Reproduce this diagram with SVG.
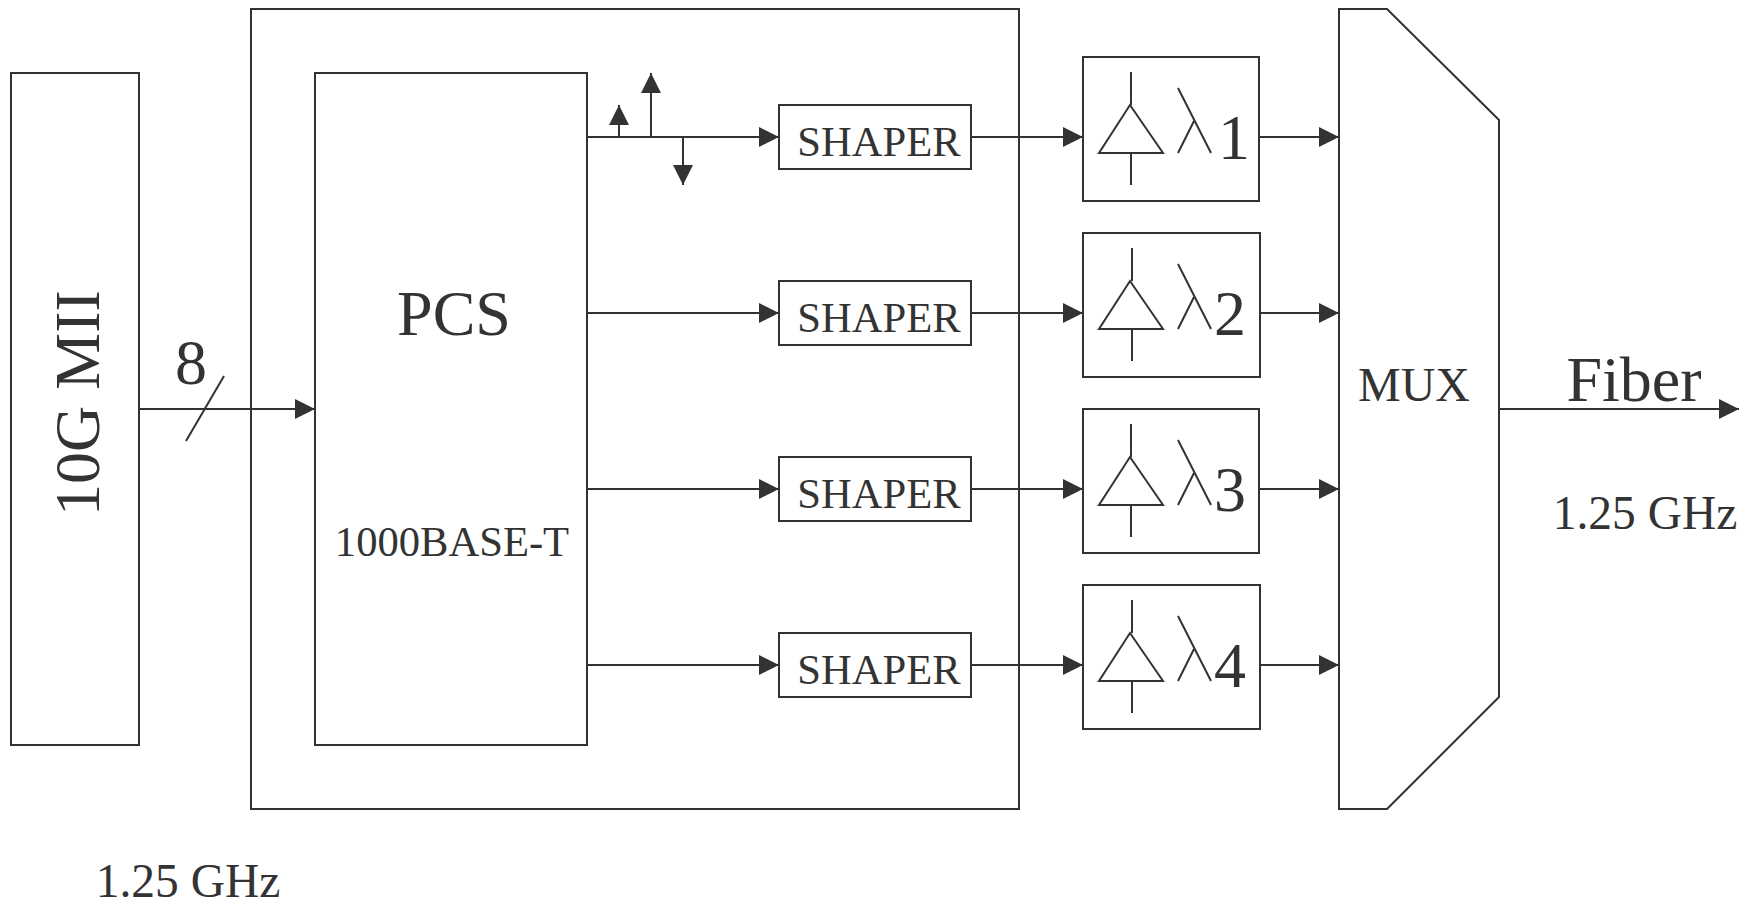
<svg xmlns="http://www.w3.org/2000/svg" width="1750" height="904" viewBox="0 0 1750 904">
<defs>
<marker id="a" markerUnits="userSpaceOnUse" markerWidth="20" markerHeight="20" refX="20" refY="10" orient="auto"><path d="M0 0L20 10L0 20z" fill="#333"/></marker>
<g id="amp"><path d="M1130 105L1163 153H1099z" class="t"/><path d="M1178 88L1211 153M1194 121L1178 153" class="t"/></g>
</defs>
<style>
rect,.b{fill:#fff;stroke:#333;stroke-width:2}
.t{fill:none;stroke:#333;stroke-width:2}
.c{fill:none;stroke:#333;stroke-width:2;marker-end:url(#a)}
text{font-family:"Liberation Serif","Times New Roman",serif;fill:#333}
.s{font-size:42.6px;text-anchor:middle}
.d{font-size:64px}
</style>
<rect width="1750" height="904" style="fill:#fff;stroke:none"/>
<g id="n-mii"><rect x="11" y="73" width="128" height="672"/><text transform="translate(99 403) rotate(-90)" font-size="64" text-anchor="middle">10G MII</text></g>
<g id="n-outer"><rect x="251" y="9" width="768" height="800"/></g>
<g id="n-pcs"><rect x="315" y="73" width="272" height="672"/><text x="454" y="335" font-size="64" text-anchor="middle">PCS</text><text x="452" y="556" font-size="42.6" text-anchor="middle">1000BASE-T</text></g>
<g id="n-s1"><rect x="779" y="105" width="192" height="64"/><text x="879" y="156" class="s">SHAPER</text></g>
<g id="n-s2"><rect x="779" y="281" width="192" height="64"/><text x="879" y="332" class="s">SHAPER</text></g>
<g id="n-s3"><rect x="779" y="457" width="192" height="64"/><text x="879" y="508" class="s">SHAPER</text></g>
<g id="n-s4"><rect x="779" y="633" width="192" height="64"/><text x="879" y="684" class="s">SHAPER</text></g>
<g id="n-l1"><rect x="1083" y="57" width="176" height="144"/><use href="#amp"/><path class="t" d="M1131 72V105M1131 153V185"/><text x="1218" y="159" class="d">1</text></g>
<g id="n-l2"><rect x="1083" y="233" width="177" height="144"/><use href="#amp" y="176"/><path class="t" d="M1132 248V281M1132 329V361"/><text x="1214" y="335" class="d">2</text></g>
<g id="n-l3"><rect x="1083" y="409" width="176" height="144"/><use href="#amp" y="352"/><path class="t" d="M1131 424V457M1131 505V537"/><text x="1214" y="511" class="d">3</text></g>
<g id="n-l4"><rect x="1083" y="585" width="177" height="144"/><use href="#amp" y="528"/><path class="t" d="M1132 600V633M1132 681V713"/><text x="1214" y="687" class="d">4</text></g>
<g id="n-mux"><path class="b" d="M1339 9H1387L1499 120V697L1387 809H1339z"/><text x="1414" y="401" font-size="48" text-anchor="middle">MUX</text></g>
<g id="connectors">
<path class="c" d="M139 409H315"/><path class="t" d="M186 441L224 376"/>
<path class="c" d="M587 137H779"/><path class="c" d="M619 137V105"/><path class="c" d="M651 137V73"/><path class="c" d="M683 137V185"/>
<path class="c" d="M587 313H779"/><path class="c" d="M587 489H779"/><path class="c" d="M587 665H779"/>
<path class="c" d="M971 137H1083"/><path class="c" d="M971 313H1083"/><path class="c" d="M971 489H1083"/><path class="c" d="M971 665H1083"/>
<path class="c" d="M1259 137H1339"/><path class="c" d="M1259 313H1339"/><path class="c" d="M1259 489H1339"/><path class="c" d="M1259 665H1339"/>
<path class="c" d="M1499 409H1739"/>
</g>
<text x="191" y="384" font-size="64" text-anchor="middle">8</text>
<text x="1634" y="401" font-size="64" text-anchor="middle">Fiber</text>
<text x="1645" y="529" font-size="47.5" text-anchor="middle">1.25 GHz</text>
<text x="188" y="897" font-size="47.5" text-anchor="middle">1.25 GHz</text>
</svg>
